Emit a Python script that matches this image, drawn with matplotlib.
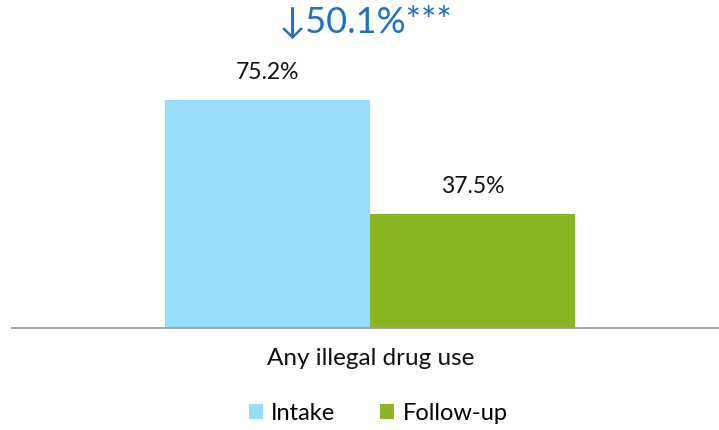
import matplotlib.pyplot as plt
from matplotlib.patches import Patch

# data
category = "Any illegal drug use"
series = ["Intake", "Follow-up"]
values = [75.2, 37.5]
colors = ["#95DDFB", "#8AB623"]
change_label = "\u219350.1%***"

plt.rcParams['font.family'] = ['Lato', 'DejaVu Sans']

fig = plt.figure(figsize=(7.19, 4.31), dpi=100)
W, H = 719, 431
ax = fig.add_axes([12 / W, (H - 328.5) / H, 717 / W, 302.5 / H])

width = 205 / 717
xs = [-width / 2, width / 2]
bars = ax.bar(xs, values, width=width, color=colors, edgecolor='none')
ax.set_xlim(-0.5, 0.5)
ax.set_ylim(0, 100)

for b, v in zip(bars, values):
    ax.annotate(f"{v:.1f}%", (b.get_x() + b.get_width() / 2, v),
                xytext=(0, 13), textcoords='offset points',
                ha='center', va='bottom', fontsize=16.5, color='#111111')

for s in ['top', 'right', 'left']:
    ax.spines[s].set_visible(False)
ax.spines['bottom'].set_color('#9E9E9E')
ax.spines['bottom'].set_linewidth(1.3)
ax.set_yticks([])
ax.set_xticks([0])
ax.set_xticklabels([category], fontsize=17.5, color='#111111')
ax.tick_params(axis='x', length=0, pad=14)

fig.text(366 / W, 1 - 22 / H, change_label, ha='center', va='center',
         fontsize=26, color='#1F6FC5')

handles = [Patch(facecolor=c, edgecolor='none') for c in colors]
fig.legend(handles, series, loc='center', bbox_to_anchor=(378 / W, 1 - 414 / H),
           ncol=2, frameon=False, fontsize=17, handlelength=0.6, handleheight=0.6,
           handletextpad=0.35, columnspacing=1.9)

fig.savefig("out.png", dpi=100)
